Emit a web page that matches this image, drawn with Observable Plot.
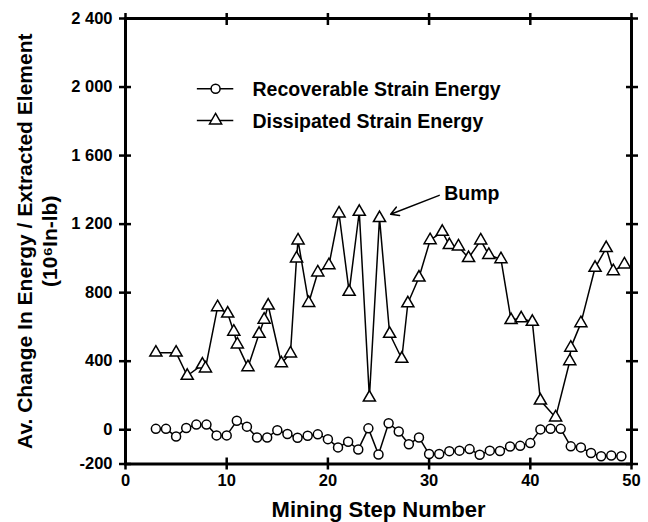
<!DOCTYPE html>
<html>
<head>
<meta charset="utf-8">
<script src="https://cdn.jsdelivr.net/npm/d3@7"></script>
<script src="https://cdn.jsdelivr.net/npm/@observablehq/plot@0.6"></script>
<style>
  html, body { margin: 0; padding: 0; background: white; }
  #chart { width: 648px; height: 522px; }
</style>
</head>
<body>
<div id="chart"></div>
<script>
// ---- data ----
const recoverableSteps = [3,4,5,6,7,8,9,10,11,12,13,14,15,16,17,18,19,20,21,22,23,24,25,26,27,28,29,30,31,32,33,34,35,36,37,38,39,40,41,42,43,44,45,46,47,48,49];
const recoverableValues = [5,5,-40,10,30,30,-33,-33,52,18,-45,-45,-3,-25,-47,-35,-27,-55,-103,-70,-115,8,-145,38,-10,-85,-45,-142,-142,-125,-122,-113,-146,-122,-124,-98,-94,-78,2,6,5,-97,-103,-136,-155,-150,-155];

const dissipatedSteps = [3,5,6.1,7.6,7.9,9.1,10.1,10.7,11.05,12.1,13.2,13.7,14.1,15.4,16.3,16.9,17.05,18.1,19.0,20.1,21.1,22.1,23.1,24.1,25.1,26.1,27.3,27.9,29.0,30.1,31.3,32.0,32.9,33.9,35.1,35.9,37.1,38.1,39.1,40.2,41.0,42.5,43.9,44.0,45.0,46.4,47.5,48.2,49.3];
const dissipatedValues = [450,450,315,380,358,715,678,572,498,365,560,642,725,388,445,1000,1105,740,918,960,1262,805,1272,188,1235,560,414,738,888,1106,1155,1078,1070,1002,1105,1020,995,640,650,630,170,72,400,479,622,945,1060,925,965];

const xTicks = [0,10,20,30,40,50];
const yTicks = [-200,0,400,800,1200,1600,2000,2400];
const yTickLabels = ["-200","0","400","800","1 200","1 600","2 000","2 400"];

const seriesNames = ["Recoverable Strain Energy","Dissipated Strain Energy"];
const seriesSymbols = ["circle","triangle"];
const xTitle = "Mining Step Number";
const yTitle1 = "Av. Change In Energy / Extracted Element";
const yTitle2 = "(10\u2076In-lb)";
const bumpLabel = "Bump";

// ---- tables built from the arrays ----
const recoverable = recoverableSteps.map((s, i) => ({step: s, value: recoverableValues[i]}));
const dissipated = dissipatedSteps.map((s, i) => ({step: s, value: dissipatedValues[i]}));

// legend / annotation layout (in data units of the plot)
const legendLayout = {x1: 7.1, x2: 10.7, xm: 8.9, xText: 12.55, y: [1990, 1805]};
const legendRows = seriesNames.map((name, i) => ({label: name, symbol: seriesSymbols[i], y: legendLayout.y[i]}));
const bumpLayout = {tx: 31.5, ty: 1380, ax1: 31.0, ay1: 1368, ax2: 26.2, ay2: 1258};

const font = "'Liberation Sans', Arial, Helvetica, sans-serif";
const tickW = 2.5;

const chart = Plot.plot({
  width: 648,
  height: 522,
  marginLeft: 125,
  marginRight: 17,
  marginTop: 18,
  marginBottom: 58.5,
  x: {domain: [0, 50]},
  y: {domain: [-200, 2400]},
  style: {fontFamily: font, fontWeight: "bold", background: "white", color: "black", overflow: "visible"},
  marks: [
    // tick marks crossing the frame on all four sides
    Plot.axisX({ticks: xTicks, anchor: "bottom", tickSize: 12, dy: -6, tickFormat: () => "", strokeWidth: tickW, label: null}),
    Plot.axisX({ticks: xTicks, anchor: "top", tickSize: 12, dy: 6, tickFormat: () => "", strokeWidth: tickW, label: null}),
    Plot.axisY({ticks: yTicks, anchor: "left", tickSize: 12, dx: 6, tickFormat: () => "", strokeWidth: tickW, label: null}),
    Plot.axisY({ticks: yTicks, anchor: "right", tickSize: 12, dx: -6, tickFormat: () => "", strokeWidth: tickW, label: null}),
    // tick labels
    Plot.axisX({ticks: xTicks, anchor: "bottom", tickSize: 0, tickPadding: 10, fontSize: 16.5, fontWeight: "bold", tickFormat: d => String(d), label: null}),
    Plot.axisY({ticks: yTicks, anchor: "left", tickSize: 0, tickPadding: 13, fontSize: 16.5, fontWeight: "bold", tickFormat: d => yTickLabels[yTicks.indexOf(d)], label: null}),
    Plot.frame({stroke: "black", strokeWidth: 3}),
    // series
    Plot.line(recoverable, {x: "step", y: "value", stroke: "black", strokeWidth: 1.5}),
    Plot.dot(recoverable, {x: "step", y: "value", symbol: "circle", r: 4.5, fill: "white", stroke: "black", strokeWidth: 1.5}),
    Plot.line(dissipated, {x: "step", y: "value", stroke: "black", strokeWidth: 1.5}),
    Plot.dot(dissipated, {x: "step", y: "value", symbol: "triangle", r: 4.5, fill: "white", stroke: "black", strokeWidth: 1.5}),
    // legend
    Plot.ruleY(legendRows, {y: "y", x1: () => legendLayout.x1, x2: () => legendLayout.x2, stroke: "black", strokeWidth: 1.5}),
    Plot.dot(legendRows, {x: () => legendLayout.xm, y: "y", symbol: "symbol", r: 4.5, fill: "white", stroke: "black", strokeWidth: 1.5}),
    Plot.text(legendRows, {x: () => legendLayout.xText, y: "y", text: "label", textAnchor: "start", lineAnchor: "middle", fontSize: 19.5, fontWeight: "bold", fill: "black", dy: 1}),
    // annotation
    Plot.text([bumpLabel], {x: () => bumpLayout.tx, y: () => bumpLayout.ty, text: d => d, textAnchor: "start", lineAnchor: "middle", fontSize: 19.5, fontWeight: "bold", fill: "black"}),
    Plot.arrow([bumpLabel], {x1: () => bumpLayout.ax1, y1: () => bumpLayout.ay1, x2: () => bumpLayout.ax2, y2: () => bumpLayout.ay2, stroke: "black", strokeWidth: 1.5, headLength: 9}),
    // axis titles
    Plot.text([xTitle], {text: d => d, frameAnchor: "bottom", dy: 46, textAnchor: "middle", lineAnchor: "middle", fontSize: 22, fontWeight: "bold", fill: "black"}),
    Plot.text([yTitle1], {text: d => d, frameAnchor: "left", rotate: -90, dx: -100, textAnchor: "middle", lineAnchor: "middle", fontSize: 21, fontWeight: "bold", fill: "black"}),
    Plot.text([yTitle2], {text: d => d, frameAnchor: "left", rotate: -90, dx: -75, textAnchor: "middle", lineAnchor: "middle", fontSize: 21, fontWeight: "bold", fill: "black"})
  ]
});
document.getElementById("chart").appendChild(chart);
</script>
</body>
</html>
